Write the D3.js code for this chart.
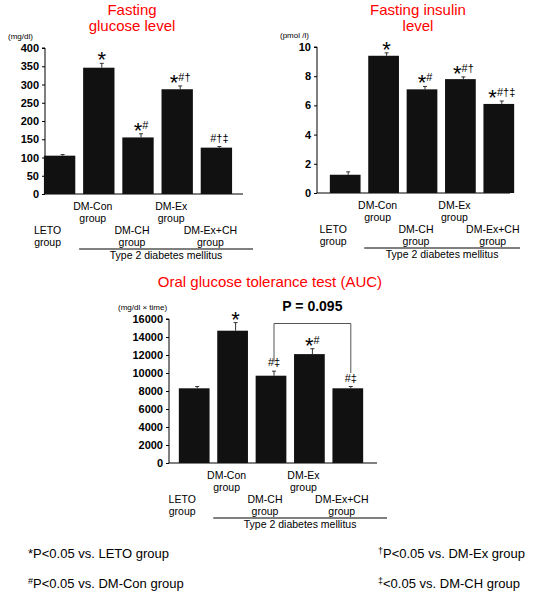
<!DOCTYPE html>
<html><head><meta charset="utf-8">
<script src="https://cdn.jsdelivr.net/npm/d3@7"></script>
<style>body{margin:0;background:#fff;font-family:"Liberation Sans",Arial,sans-serif;}</style>
</head><body><div id="chart"></div>
<script>
// Data
const groups = ["LETO", "DM-Con", "DM-CH", "DM-Ex", "DM-Ex+CH"];
const glucose = [105, 346, 155, 287, 127];
const glucoseErr = [3, 12, 10, 9, 3];
const insulin = [1.25, 9.4, 7.1, 7.8, 6.1];
const insulinErr = [0.2, 0.2, 0.2, 0.15, 0.2];
const ogtt = [8300, 14700, 9700, 12100, 8300];
const ogttErr = [200, 900, 500, 600, 200];
const glucoseMarks = ["", "*", "*#", "*#†", "#†‡"];
const insulinMarks = ["", "*", "*#", "*#†", "*#†‡"];
const ogttMarks = ["", "*", "#‡", "*#", "#‡"];

const svg = d3.select("#chart").append("svg").attr("width", 540).attr("height", 616);

function drawChart(c) {
  const x = d3.scaleBand().domain(groups).range(c.xr).paddingInner(0.2).paddingOuter(0.1);
  const y = d3.scaleLinear().domain([0, c.max]).range([c.y0, c.y1]);
  const g = svg.append("g");

  // title
  c.title.forEach((t, i) => g.append("text").attr("x", c.tx).attr("y", c.ty + i * 16)
    .attr("text-anchor", "middle").attr("fill", "#ff0000").style("font-size", "15px").text(t));
  g.append("text").attr("x", c.ux).attr("y", c.y1 - 9).style("font-size", "8px").text(c.unit);

  const ax = g.append("g").attr("transform", `translate(${c.ax},0)`)
    .call(d3.axisLeft(y).ticks(c.ticks).tickSize(3).tickFormat(d3.format("d")));
  ax.selectAll("text").style("font-size", "11px").style("font-weight", "bold")
    .style("font-family", "Liberation Sans, Arial");
  ax.select(".domain").attr("d", `M-3,${c.y1}H0V${c.y0}`);
  g.append("line").attr("x1", c.ax).attr("x2", c.axEnd).attr("y1", c.y0).attr("y2", c.y0).attr("stroke", "#000");

  // error bars then bars
  groups.forEach((k, i) => {
    const cx = x(k) + x.bandwidth() / 2 + 3;
    g.append("line").attr("x1", cx).attr("x2", cx)
      .attr("y1", y(c.vals[i])).attr("y2", y(c.vals[i] + c.err[i])).attr("stroke", "#333");
    g.append("line").attr("x1", cx - 2).attr("x2", cx + 2)
      .attr("y1", y(c.vals[i] + c.err[i])).attr("y2", y(c.vals[i] + c.err[i])).attr("stroke", "#333");
  });
  g.selectAll("rect").data(c.vals).enter().append("rect")
    .attr("x", (d, i) => x(groups[i])).attr("width", x.bandwidth())
    .attr("y", d => y(d)).attr("height", d => c.y0 - y(d)).attr("fill", "#111");

  // significance marks
  groups.forEach((k, i) => {
    const m = c.marks[i];
    if (!m) return;
    const t = g.append("text").attr("x", x(k) + x.bandwidth() / 2 + 3)
      .attr("y", y(c.vals[i] + c.err[i]) + 4).attr("text-anchor", "middle");
    let first = true;
    for (const ch of m) {
      if (ch === "*") t.append("tspan").style("font-size", "22px").text("*");
      else {
        t.append("tspan").style("font-size", "11px").attr("dy", first ? -9 : 0).text(ch);
        first = false;
      }
    }
  });

  // category labels
  const top = c.y0 + 16, bot = c.y0 + 40;
  groups.forEach((k, i) => {
    const cx = x(k) + x.bandwidth() / 2 - 6;
    const yy = i % 2 === 1 ? top : bot;
    [k, "group"].forEach((s, j) => g.append("text").attr("x", i === 0 ? cx - 6 : cx).attr("y", yy + j * 12)
      .attr("text-anchor", "middle").style("font-size", "10.5px").text(s));
  });
  const lx1 = x(groups[1]) - 4, lx2 = c.axEnd + 10;
  g.append("line").attr("x1", lx1).attr("x2", lx2).attr("y1", bot + 15).attr("y2", bot + 15).attr("stroke", "#000");
  g.append("text").attr("x", (lx1 + lx2) / 2).attr("y", bot + 25).attr("text-anchor", "middle")
    .style("font-size", "10.5px").text("Type 2 diabetes mellitus");
  return {x, y, g};
}

drawChart({vals: glucose, err: glucoseErr, marks: glucoseMarks, max: 400, ticks: 8,
  xr: [40, 236], y0: 194, y1: 48, ax: 45, axEnd: 243, title: ["Fasting", "glucose level"],
  tx: 132, ty: 15, unit: "(mg/dl)", ux: 8});
drawChart({vals: insulin, err: insulinErr, marks: insulinMarks, max: 10, ticks: 5,
  xr: [326, 518], y0: 193, y1: 47, ax: 317, axEnd: 510, title: ["Fasting insulin", "level"],
  tx: 418, ty: 15, unit: "(pmol /l)", ux: 280});
const c3 = drawChart({vals: ogtt, err: ogttErr, marks: ogttMarks, max: 16000, ticks: 8,
  xr: [175, 367], y0: 463, y1: 319, ax: 169, axEnd: 377, title: ["Oral glucose tolerance test (AUC)"],
  tx: 270, ty: 287, unit: "(mg/dl × time)", ux: 118});

// bracket P = 0.095
const bx1 = c3.x("DM-CH") + c3.x.bandwidth() / 2 + 3, bx2 = c3.x("DM-Ex+CH") + c3.x.bandwidth() / 2 + 3;
c3.g.append("path").attr("fill", "none").attr("stroke", "#555")
  .attr("d", `M${bx1},${c3.y(11200)}V${c3.y(15500)}H${bx2}V${c3.y(10000)}`);
c3.g.append("text").attr("x", (bx1 + bx2) / 2).attr("y", 311).attr("text-anchor", "middle")
  .style("font-size", "14px").style("font-weight", "bold").text("P = 0.095");

// footnotes
const notes = [["*", "P<0.05 vs. LETO group", 28, 558, 0], ["†", "P<0.05 vs. DM-Ex group", 378, 558, -4],
  ["#", "P<0.05 vs. DM-Con group", 28, 588, -4], ["‡", "<0.05 vs. DM-CH group", 378, 588, -4]];
notes.forEach(n => {
  const t = svg.append("text").attr("x", n[2]).attr("y", n[3]).style("font-size", "13px");
  t.append("tspan").style("font-size", n[4] ? "9px" : "13px").attr("dy", n[4]).text(n[0]);
  t.append("tspan").attr("dy", -n[4]).text(n[1]);
});
</script></body></html>
